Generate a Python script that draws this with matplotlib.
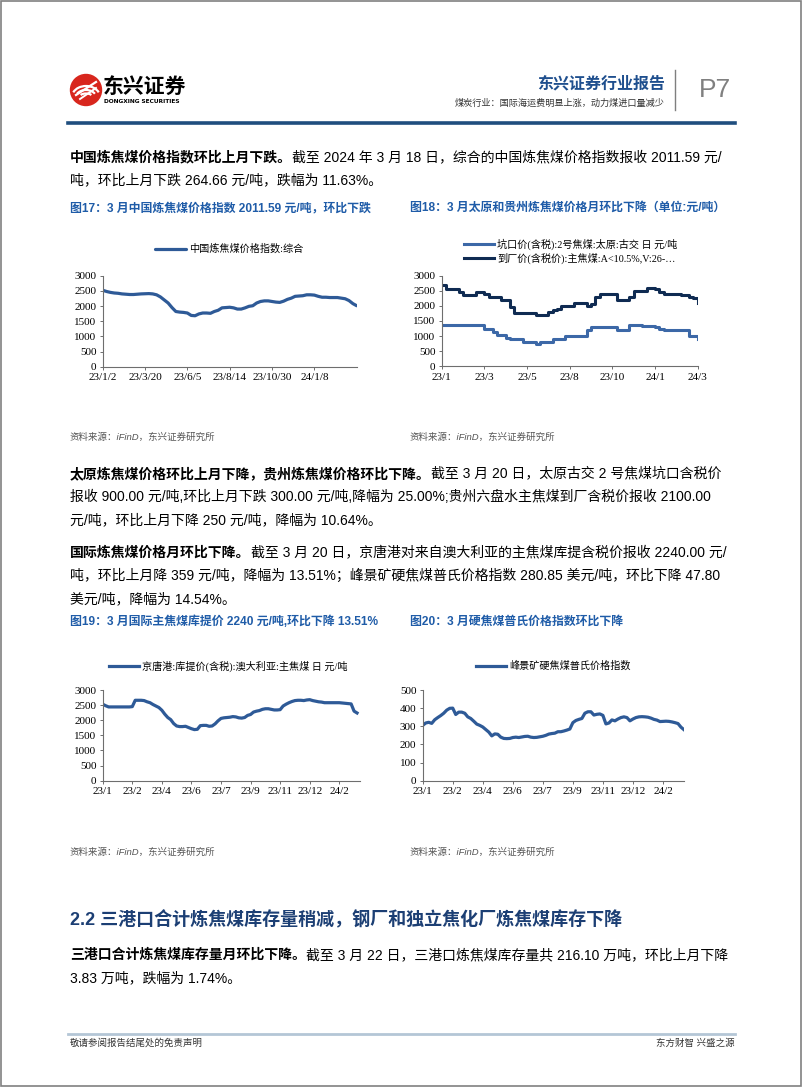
import matplotlib
matplotlib.use("Agg")
import matplotlib.pyplot as plt
from matplotlib.patches import Circle, Rectangle, Arc

plt.rcParams['font.family'] = ['Noto Sans CJK SC', 'DejaVu Sans']
MIX = ['Liberation Sans', 'Noto Sans CJK SC']
SERIFMIX = ['Liberation Serif', 'Noto Sans CJK SC']

# ---------------- data ----------------
c1_label = "中国炼焦煤价格指数:综合"
c1_ticks = ["23/1/2", "23/3/20", "23/6/5", "23/8/14", "23/10/30", "24/1/8"]
c1_values = [2520, 2480, 2450, 2430, 2420, 2400, 2390, 2380, 2380, 2390, 2400, 2405, 2410, 2400,
             2370, 2300, 2200, 2100, 1950, 1820, 1800, 1790, 1770, 1690, 1680, 1740, 1770, 1770,
             1760, 1820, 1860, 1940, 1950, 1960, 1940, 1900, 1900, 1940, 1990, 2010, 2100, 2150,
             2170, 2170, 2150, 2130, 2120, 2160, 2220, 2260, 2320, 2330, 2340, 2370, 2370, 2360,
             2320, 2290, 2290, 2280, 2280, 2280, 2260, 2240, 2180, 2080, 2010]

c2_labels = ["坑口价(含税):2号焦煤:太原:古交 日 元/吨", "到厂价(含税价):主焦煤:A<10.5%,V:26-…"]
c2_ticks = ["23/1", "23/3", "23/5", "23/8", "23/10", "24/1", "24/3"]
c2_taiyuan = [1380] * 10 + [1250, 1250, 1150, 1050, 1050, 950, 900, 900, 900, 800, 800, 800, 750,
                           800, 800, 800, 900, 900, 900, 1000, 1000, 1000, 1000, 1000, 1200, 1300,
                           1300, 1300, 1300, 1300, 1300, 1200, 1200, 1200, 1380, 1380, 1380, 1350,
                           1350, 1350, 1300, 1250, 1200, 1200, 1200, 1200, 1200, 1200, 1000, 1000, 900]
c2_guizhou = [2700, 2550, 2550, 2550, 2450, 2350, 2350, 2350, 2450, 2450, 2400, 2300, 2300, 2300,
              2200, 2200, 1950, 1750, 1750, 1750, 1750, 1750, 1700, 1700, 1700, 1800, 1850, 1900,
              2000, 2000, 2000, 2100, 2100, 2100, 2000, 2050, 2300, 2400, 2400, 2400, 2400, 2200,
              2200, 2200, 2300, 2500, 2500, 2500, 2600, 2600, 2550, 2450, 2400, 2400, 2400, 2400,
              2350, 2350, 2300, 2250, 2100]

c3_label = "京唐港:库提价(含税):澳大利亚:主焦煤 日 元/吨"
c3_ticks = ["23/1", "23/2", "23/4", "23/6", "23/7", "23/9", "23/11", "23/12", "24/2"]
c3_values = [2530, 2480, 2440, 2440, 2440, 2440, 2440, 2440, 2440, 2440, 2450, 2660, 2660, 2660,
             2650, 2610, 2580, 2520, 2470, 2420, 2330, 2200, 2090, 2020, 1890, 1810, 1790, 1790,
             1800, 1760, 1720, 1690, 1700, 1820, 1830, 1830, 1800, 1810, 1880, 1980, 2060, 2080,
             2090, 2100, 2120, 2110, 2080, 2070, 2090, 2160, 2190, 2270, 2300, 2320, 2360, 2380,
             2380, 2360, 2340, 2340, 2350, 2470, 2530, 2580, 2620, 2650, 2660, 2660, 2650, 2670,
             2680, 2650, 2630, 2610, 2600, 2580, 2580, 2580, 2580, 2580, 2580, 2570, 2560, 2550,
             2540, 2300, 2240]

c4_label = "峰景矿硬焦煤普氏价格指数"
c4_ticks = ["23/1", "23/2", "23/4", "23/6", "23/7", "23/9", "23/11", "23/12", "24/2"]
c4_values = [305, 318, 322, 316, 336, 348, 359, 372, 389, 399, 400, 365, 378, 378, 372, 352, 343,
             328, 312, 305, 296, 282, 268, 247, 258, 256, 240, 233, 232, 233, 238, 240, 238, 241,
             244, 245, 240, 238, 239, 242, 245, 250, 257, 260, 262, 270, 270, 274, 279, 285, 320,
             332, 338, 343, 372, 380, 380, 362, 366, 368, 360, 313, 318, 335, 330, 340, 348, 352,
             348, 330, 340, 348, 352, 353, 352, 350, 345, 338, 334, 326, 327, 328, 327, 324, 320,
             315, 295, 281]

# ---------------- page ----------------
W, H = 802, 1087
fig = plt.figure(figsize=(W / 100, H / 100), dpi=100)
bg = fig.add_axes([0, 0, 1, 1])
bg.set_xlim(0, W)
bg.set_ylim(H, 0)
bg.set_axis_off()

def fx(x):
    return x / W

def fy(y):
    return 1 - y / H

def T(x, y, s, size=10, color='black', weight='normal', ha='left', va='center', family=None, **kw):
    return bg.text(x, y, s, fontsize=size, color=color, fontweight=weight, ha=ha, va=va,
                   family=family if family else MIX, **kw)

# border
bg.add_patch(Rectangle((0.5, 0.5), W - 1.5, H - 1.5, fill=False, ec='#808080', lw=1.2))

# logo
bg.add_patch(Circle((86, 90), 15.5, color='#D8261D'))
for r in (11, 7, 3.5):
    bg.add_patch(Arc((86, 97), 2 * r + 6, 2 * r, theta1=200, theta2=340, color='white', lw=1.6))
bg.plot([76, 96], [95, 82], color='white', lw=1.6)
bg.plot([80, 96], [99, 88], color='white', lw=1.4)
T(103, 86, "东兴证券", size=15, weight='heavy', family=['Noto Sans CJK SC'])
T(104, 101.5, "DONGXING SECURITIES", size=4.2, weight='bold', family=['DejaVu Sans'])

T(665, 84, "东兴证券行业报告", size=11.5, color='#1F4F8E', weight='bold', ha='right')
T(665, 103, "煤炭行业：国际海运费明显上涨，动力煤进口量减少", size=6.6, color='#333333', ha='right')
bg.plot([675, 675], [70, 110], color='#7f7f7f', lw=1.0)
T(699, 90, "P7", size=19, color='#808080', family=['Liberation Sans'])
bg.plot([68, 735], [122.5, 122.5], color='#1F4E7E', lw=2.6)

# footer
bg.plot([68, 735], [1034, 1034], color='#B4C6D6', lw=2.0)
T(70, 1043, "敬请参阅报告结尾处的免责声明", size=6.8, color='#333333')
T(735, 1043, "东方财智 兴盛之源", size=6.8, color='#333333', ha='right')

# ---------------- body text ----------------
BODY = 10
cw = BODY * 100 / 72

def para_line(y, bold, rest):
    x = 70
    if bold:
        T(x, y, bold, size=BODY, weight='bold')
        x += len(bold) * cw
    if rest:
        T(x, y, rest, size=BODY)

para_line(157, "中国炼焦煤价格指数环比上月下跌。", "截至 2024 年 3 月 18 日，综合的中国炼焦煤价格指数报收 2011.59 元/")
para_line(180, "", "吨，环比上月下跌 264.66 元/吨，跌幅为 11.63%。")

cap_color = '#1F5CA8'
CAP = 8.6
T(70, 208, "图17：3 月中国炼焦煤价格指数 2011.59 元/吨，环比下跌", size=CAP, color=cap_color, weight='bold')
T(410, 208, "图18：3 月太原和贵州炼焦煤价格月环比下降（单位:元/吨）", size=CAP, color=cap_color, weight='bold')

src = "资料来源：iFinD，东兴证券研究所"
T(70, 437, src, size=6.8, color='#555555', style='italic')
T(410, 437, src, size=6.8, color='#555555', style='italic')

para_line(474, "太原炼焦煤价格环比上月下降，贵州炼焦煤价格环比下降。", "截至 3 月 20 日，太原古交 2 号焦煤坑口含税价")
para_line(497, "", "报收 900.00 元/吨,环比上月下跌 300.00 元/吨,降幅为 25.00%;贵州六盘水主焦煤到厂含税价报收 2100.00")
para_line(520, "", "元/吨，环比上月下降 250 元/吨，降幅为 10.64%。")

para_line(553, "国际炼焦煤价格月环比下降。", "截至 3 月 20 日，京唐港对来自澳大利亚的主焦煤库提含税价报收 2240.00 元/")
para_line(576, "", "吨，环比上月降 359 元/吨，降幅为 13.51%；峰景矿硬焦煤普氏价格指数 280.85 美元/吨，环比下降 47.80")
para_line(599, "", "美元/吨，降幅为 14.54%。")

T(70, 622, "图19：3 月国际主焦煤库提价 2240 元/吨,环比下降 13.51%", size=CAP, color=cap_color, weight='bold')
T(410, 622, "图20：3 月硬焦煤普氏价格指数环比下降", size=CAP, color=cap_color, weight='bold')

T(70, 852, src, size=6.8, color='#555555', style='italic')
T(410, 852, src, size=6.8, color='#555555', style='italic')

T(70, 920, "2.2 三港口合计炼焦煤库存量稍减，钢厂和独立焦化厂炼焦煤库存下降", size=13, color='#1C3F74', weight='bold')
para_line(955, "三港口合计炼焦煤库存量月环比下降。", "截至 3 月 22 日，三港口炼焦煤库存量共 216.10 万吨，环比上月下降")
para_line(978, "", "3.83 万吨，跌幅为 1.74%。")

# ---------------- charts ----------------
def make_ax(l, r, t, b):
    return fig.add_axes([fx(l), fy(b), (r - l) / W, (b - t) / H])

def style(ax, ymax, ystep, ticks, step, xmax):
    ax.set_ylim(0, ymax)
    ax.set_yticks(range(0, ymax + 1, ystep))
    ax.set_xlim(0, xmax)
    ax.set_xticks([i * step for i in range(len(ticks))])
    ax.set_xticklabels(ticks)
    for s in ['top', 'right']:
        ax.spines[s].set_visible(False)
    for s in ['left', 'bottom']:
        ax.spines[s].set_color('#6e6e6e')
        ax.spines[s].set_linewidth(0.8)
    ax.tick_params(axis='both', length=2.5, width=0.7, color='#6e6e6e', pad=2, labelsize=8)
    for lab in ax.get_xticklabels() + ax.get_yticklabels():
        lab.set_family(['Liberation Serif'])
    ax.patch.set_alpha(0)

LINE = '#2E5A97'
LEG = dict(frameon=False, handlelength=3.0, handletextpad=0.3, borderpad=0, borderaxespad=0,
           prop={'family': SERIFMIX, 'size': 7.3})

ax1 = make_ax(102.7, 356.7, 275.7, 366.7)
x1 = list(range(len(c1_values)))
l1, = ax1.plot(x1, c1_values, color=LINE, lw=2.3, solid_capstyle='round')
style(ax1, 3000, 500, c1_ticks, 11, len(c1_values) - 1)
fig.legend([l1], [c1_label], loc='center', bbox_to_anchor=(fx(229), fy(249)), **LEG)

ax2 = make_ax(441.7, 697.7, 275.7, 366.3)
x2 = list(range(len(c2_taiyuan)))
l2a, = ax2.plot(x2, c2_taiyuan, color='#3C68A7', lw=2.2, drawstyle='steps-post')
l2b, = ax2.plot(x2, c2_guizhou, color='#0F2B52', lw=2.2, drawstyle='steps-post')
style(ax2, 3000, 500, c2_ticks, 10, len(c2_taiyuan) - 1)
fig.legend([l2a, l2b], c2_labels, loc='upper left', bbox_to_anchor=(fx(464), fy(238.5)),
           labelspacing=0.25, **LEG)

ax3 = make_ax(102.7, 360, 690, 780.7)
x3 = list(range(len(c3_values)))
l3, = ax3.plot(x3, c3_values, color=LINE, lw=2.3)
style(ax3, 3000, 500, c3_ticks, 10, len(c3_values))
fig.legend([l3], [c3_label], loc='center', bbox_to_anchor=(fx(228), fy(666)), **LEG)

ax4 = make_ax(422.7, 684, 690, 780.7)
x4 = list(range(len(c4_values)))
l4, = ax4.plot(x4, c4_values, color=LINE, lw=2.3)
style(ax4, 500, 100, c4_ticks, 10, len(c4_values) - 1)
fig.legend([l4], [c4_label], loc='center', bbox_to_anchor=(fx(553), fy(666)), **LEG)

fig.savefig("out.png", dpi=100, facecolor='white')
